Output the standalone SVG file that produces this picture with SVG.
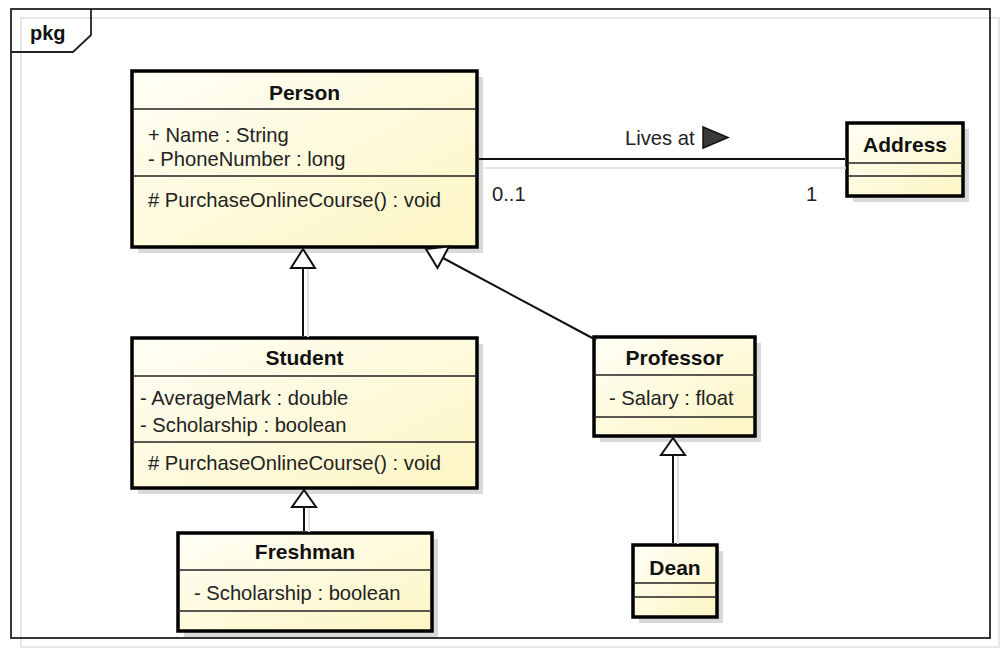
<svg xmlns="http://www.w3.org/2000/svg" width="1004" height="653" viewBox="0 0 1004 653">
<defs>
<linearGradient id="fillG" x1="0" y1="0" x2="1" y2="1">
<stop offset="0" stop-color="#fffff6"/>
<stop offset="1" stop-color="#fdf5c3"/>
</linearGradient>
</defs>
<style>
.box{fill:url(#fillG);stroke:#000;stroke-width:3.5}
.shadow{fill:#d9d9d9;stroke:none}
.div{stroke:#222;stroke-width:1.5}
.title{font-family:"Liberation Sans",Arial,sans-serif;font-weight:bold;font-size:21px;fill:#111;text-anchor:middle}
.txt{font-family:"Liberation Sans",Arial,sans-serif;font-size:20.2px;fill:#222}
.conn{stroke:#111;stroke-width:2;fill:none}
.connsh{stroke:#e2e2e2;stroke-width:2;fill:none}
.gen{fill:#fff;stroke:#111;stroke-width:2;stroke-linejoin:miter}
.frame{fill:none;stroke:#222;stroke-width:1.8}
.framesh{fill:none;stroke:#e0e0e0;stroke-width:1.5}
</style>
<rect width="1004" height="653" fill="#fff"/>
<g id="frame">
<rect class="framesh" x="21" y="18" width="978" height="629"/>
<rect class="frame" x="11" y="9" width="979" height="629"/>
<path class="frame" d="M11,52 L73,52 L91,35 L91,9"/>
<text x="30" y="40" style="font-family:'Liberation Sans',Arial,sans-serif;font-weight:bold;font-size:20px;fill:#111">pkg</text>
</g>
<g id="person">
<rect class="shadow" x="138" y="77" width="345" height="176"/>
<rect class="box" x="132" y="71" width="345" height="176"/>
<line class="div" x1="132" y1="109" x2="477" y2="109"/>
<line class="div" x1="132" y1="176" x2="477" y2="176"/>
<text class="title" x="304.5" y="100">Person</text>
<text class="txt" x="148" y="142">+ Name : String</text>
<text class="txt" x="148" y="166">- PhoneNumber : long</text>
<text class="txt" x="148" y="207"># PurchaseOnlineCourse() : void</text>
</g>
<g id="address">
<rect class="shadow" x="853" y="129" width="116" height="73"/>
<rect class="box" x="847" y="123" width="116" height="73"/>
<line class="div" x1="847" y1="163" x2="963" y2="163"/>
<line class="div" x1="847" y1="176" x2="963" y2="176"/>
<text class="title" x="905" y="152">Address</text>
</g>
<g id="student">
<rect class="shadow" x="138" y="344" width="345" height="150"/>
<rect class="box" x="132" y="338" width="345" height="150"/>
<line class="div" x1="132" y1="376" x2="477" y2="376"/>
<line class="div" x1="132" y1="442" x2="477" y2="442"/>
<text class="title" x="304.5" y="365">Student</text>
<text class="txt" x="140" y="405">- AverageMark : double</text>
<text class="txt" x="140" y="432">- Scholarship : boolean</text>
<text class="txt" x="148" y="470"># PurchaseOnlineCourse() : void</text>
</g>
<g id="professor">
<rect class="shadow" x="600" y="343" width="161" height="99"/>
<rect class="box" x="594" y="337" width="161" height="99"/>
<line class="div" x1="594" y1="375" x2="755" y2="375"/>
<line class="div" x1="594" y1="417" x2="755" y2="417"/>
<text class="title" x="674.5" y="365">Professor</text>
<text class="txt" x="609" y="405">- Salary : float</text>
</g>
<g id="dean">
<rect class="shadow" x="639" y="551" width="84" height="72"/>
<rect class="box" x="633" y="545" width="84" height="72"/>
<line class="div" x1="633" y1="583" x2="717" y2="583"/>
<line class="div" x1="633" y1="597" x2="717" y2="597"/>
<text class="title" x="675" y="575">Dean</text>
</g>
<g id="freshman">
<rect class="shadow" x="184" y="539" width="254" height="98"/>
<rect class="box" x="178" y="533" width="254" height="98"/>
<line class="div" x1="178" y1="570" x2="432" y2="570"/>
<line class="div" x1="178" y1="611" x2="432" y2="611"/>
<text class="title" x="305" y="559">Freshman</text>
<text class="txt" x="194" y="600">- Scholarship : boolean</text>
</g>
<g id="connectors">
<line class="connsh" x1="484" y1="168" x2="846" y2="168"/>
<line class="connsh" x1="308" y1="337" x2="308" y2="269"/>
<line class="connsh" x1="309" y1="532" x2="309" y2="508"/>
<line class="connsh" x1="678" y1="544" x2="678" y2="456"/>
<line class="conn" x1="479" y1="159" x2="845" y2="159"/>
<text class="txt" x="625" y="145">Lives at</text>
<polygon points="703,127 728,137.5 703,148" fill="#3a3a3a" stroke="#111" stroke-width="1.5"/>
<text class="txt" x="492" y="201">0..1</text>
<text class="txt" x="806" y="201">1</text>
<line class="conn" x1="303" y1="336" x2="303" y2="268"/>
<polygon class="gen" points="303,249 291,268 315,268"/>
<line class="conn" x1="596" y1="340" x2="443" y2="258"/>
<polygon class="gen" points="426,249 449,246.5 437.5,268"/>
<line class="conn" x1="304" y1="531" x2="304" y2="507"/>
<polygon class="gen" points="304,490 292,507 316,507"/>
<line class="conn" x1="673" y1="543" x2="673" y2="455"/>
<polygon class="gen" points="673,438 661,455 685,455"/>
</g>
</svg>
